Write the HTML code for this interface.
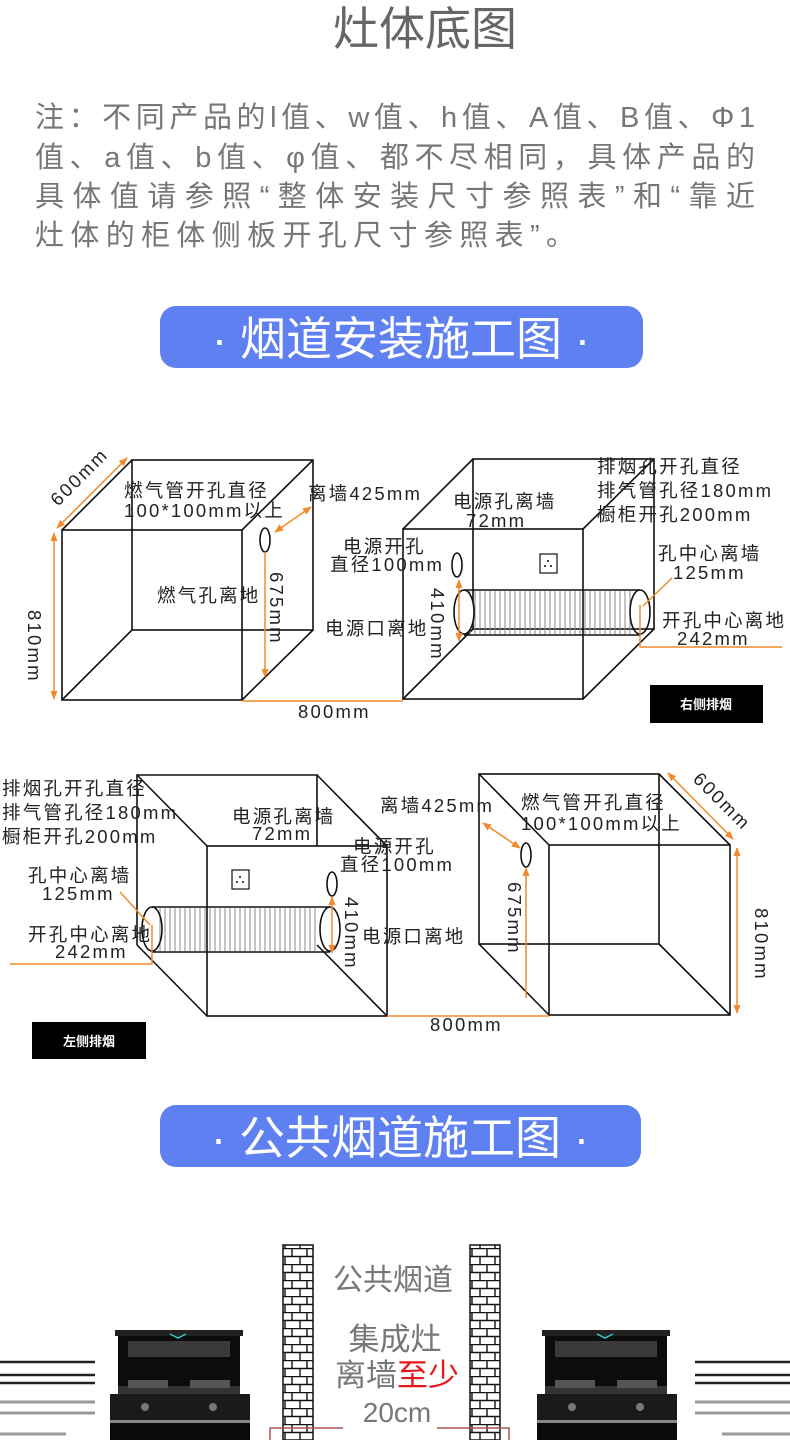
<!DOCTYPE html>
<html><head><meta charset="utf-8">
<style>
html,body{margin:0;padding:0;background:#fff;}
svg{display:block;}
text{font-family:"Liberation Sans","Noto Sans CJK SC",sans-serif;}
.t{font-size:18.5px;fill:#222;letter-spacing:2.2px;}
.n{font-size:29px;fill:#777;}
.o{stroke:#f08a2c;stroke-width:1.5;fill:none;}
.b{stroke:#111;stroke-width:1.6;fill:none;}
</style></head><body>
<svg width="790" height="1440" viewBox="0 0 790 1440" xmlns="http://www.w3.org/2000/svg">
<defs>
<marker id="a" viewBox="0 0 10 10" refX="9" refY="5" markerWidth="6" markerHeight="6" orient="auto-start-reverse"><path d="M0,1 L10,5 L0,9 z" fill="#f08a2c"/></marker>
<pattern id="brick" width="30" height="16" patternUnits="userSpaceOnUse">
<rect width="30" height="16" fill="#fff"/>
<path d="M0,0.5 H30 M0,8.5 H30 M7,0 V8 M22,0 V8 M0,8 V16 M15,8 V16 M30,8 V16" stroke="#111" stroke-width="1.4" fill="none"/>
</pattern>
</defs>

<text x="425" y="45" font-size="46" fill="#666" text-anchor="middle">灶体底图</text>
<text class="n" x="35" y="127" textLength="720">注：不同产品的l值、w值、h值、A值、B值、Φ1</text>
<text class="n" x="35" y="167" textLength="720">值、a值、b值、φ值、都不尽相同，具体产品的</text>
<text class="n" x="35" y="206" textLength="720">具体值请参照“整体安装尺寸参照表”和“靠近</text>
<text class="n" x="35" y="245" textLength="540">灶体的柜体侧板开孔尺寸参照表”。</text>

<rect x="160" y="306" width="483" height="62" rx="16" fill="#5f80f0"/>
<text x="401" y="355" font-size="46" fill="#fff" text-anchor="middle">· 烟道安装施工图 ·</text>

<!-- Diagram A -->
<g class="b">
<rect x="62" y="530" width="180" height="170"/>
<rect x="132" y="460" width="181" height="170"/>
<path d="M62,530 L132,460 M242,530 L313,460 M62,700 L132,630 M242,700 L313,630"/>
<ellipse cx="265" cy="540" rx="5" ry="12"/>
</g>
<g class="o">
<line x1="57" y1="528" x2="127" y2="458" marker-start="url(#a)" marker-end="url(#a)"/>
<line x1="54" y1="533" x2="54" y2="699" marker-start="url(#a)" marker-end="url(#a)"/>
<line x1="265" y1="552" x2="265" y2="677" marker-end="url(#a)"/>
<line x1="275" y1="532" x2="311" y2="507" marker-start="url(#a)" marker-end="url(#a)"/>
<line x1="242" y1="701" x2="403" y2="701"/>
</g>
<text class="t" x="124" y="497">燃气管开孔直径</text>
<text class="t" x="124" y="517">100*100mm以上</text>
<text class="t" x="308" y="500">离墙425mm</text>
<text class="t" x="157" y="602">燃气孔离地</text>
<text class="t" transform="translate(270,572) rotate(90)">675mm</text>
<text class="t" transform="translate(28,610) rotate(90)">810mm</text>
<text class="t" transform="translate(58,507) rotate(-45)">600mm</text>
<text class="t" x="298" y="718">800mm</text>

<!-- Diagram B -->
<g class="b">
<rect x="403" y="529" width="180" height="170"/>
<rect x="473" y="459" width="181" height="170"/>
<path d="M403,529 L473,459 M583,529 L654,459 M403,699 L473,629 M583,699 L654,629"/>
<ellipse cx="457" cy="565" rx="5" ry="12"/>
<rect x="540" y="554" width="17" height="19" stroke-width="1.2"/>
</g>
<circle cx="548" cy="561" r="1" fill="#111"/><circle cx="545" cy="566" r="1" fill="#111"/><circle cx="551" cy="566" r="1" fill="#111"/>
<g stroke="#888" stroke-width="1">
<path d="M470,591 V634 M475,591 V634 M480,591 V634 M485,591 V634 M490,591 V634 M495,591 V634 M500,591 V634 M505,591 V634 M510,591 V634 M515,591 V634 M520,591 V634 M525,591 V634 M530,591 V634 M535,591 V634 M540,591 V634 M545,591 V634 M550,591 V634 M555,591 V634 M560,591 V634 M565,591 V634 M570,591 V634 M575,591 V634 M580,591 V634 M585,591 V634 M590,591 V634 M595,591 V634 M600,591 V634 M605,591 V634 M610,591 V634 M615,591 V634 M620,591 V634 M625,591 V634 M630,591 V634"/>
</g>
<g class="b">
<path d="M464,590 H640 M464,635 H640"/>
<ellipse cx="464" cy="612" rx="10" ry="22" fill="#fff"/>
<ellipse cx="640" cy="612" rx="10" ry="22"/>
</g>
<g class="o">
<line x1="459" y1="580" x2="459" y2="641" marker-start="url(#a)" marker-end="url(#a)"/>
<line x1="643" y1="606" x2="672" y2="578"/>
<path d="M640,605 V647 H782"/>
</g>
<text class="t" x="453" y="508">电源孔离墙</text>
<text class="t" x="466" y="527">72mm</text>
<text class="t" x="343" y="553">电源开孔</text>
<text class="t" x="330" y="571">直径100mm</text>
<text class="t" transform="translate(431,588) rotate(90)">410mm</text>
<text class="t" x="325" y="635">电源口离地</text>
<text class="t" x="597" y="473">排烟孔开孔直径</text>
<text class="t" x="597" y="497">排气管孔径180mm</text>
<text class="t" x="597" y="521">橱柜开孔200mm</text>
<text class="t" x="658" y="560">孔中心离墙</text>
<text class="t" x="673" y="579">125mm</text>
<text class="t" x="662" y="627">开孔中心离地</text>
<text class="t" x="677" y="645">242mm</text>
<rect x="650" y="685" width="113" height="38" fill="#000"/>
<text x="706" y="709" font-size="13" font-weight="bold" fill="#fff" text-anchor="middle">右侧排烟</text>

<!-- Diagram C -->
<g class="b">
<rect x="207" y="846" width="180" height="170"/>
<path d="M137,945 V775 H317 V846"/>
<path d="M137,775 L207,846 M317,775 L387,846 M137,945 L207,1016 M317,945 L387,1016"/>
<ellipse cx="332" cy="884" rx="5" ry="12"/>
<rect x="232" y="870" width="17" height="19" stroke-width="1.2"/>
</g>
<circle cx="240" cy="877" r="1" fill="#111"/><circle cx="237" cy="882" r="1" fill="#111"/><circle cx="243" cy="882" r="1" fill="#111"/>
<g stroke="#888" stroke-width="1">
<path d="M160,908 V951 M165,908 V951 M170,908 V951 M175,908 V951 M180,908 V951 M185,908 V951 M190,908 V951 M195,908 V951 M200,908 V951 M205,908 V951 M210,908 V951 M215,908 V951 M220,908 V951 M225,908 V951 M230,908 V951 M235,908 V951 M240,908 V951 M245,908 V951 M250,908 V951 M255,908 V951 M260,908 V951 M265,908 V951 M270,908 V951 M275,908 V951 M280,908 V951 M285,908 V951 M290,908 V951 M295,908 V951 M300,908 V951 M305,908 V951 M310,908 V951 M315,908 V951"/>
</g>
<g class="b">
<path d="M152,907 H330 M152,952 H330"/>
<ellipse cx="152" cy="929" rx="10" ry="22"/>
<ellipse cx="330" cy="929" rx="10" ry="22" fill="#fff"/>
</g>
<g class="o">
<line x1="332" y1="897" x2="332" y2="953" marker-start="url(#a)" marker-end="url(#a)"/>
<line x1="120" y1="892" x2="150" y2="925"/>
<path d="M152,925 V964 H10"/>
</g>
<text class="t" x="2" y="795">排烟孔开孔直径</text>
<text class="t" x="2" y="819">排气管孔径180mm</text>
<text class="t" x="2" y="843">橱柜开孔200mm</text>
<text class="t" x="232" y="823">电源孔离墙</text>
<text class="t" x="252" y="840">72mm</text>
<text class="t" x="353" y="853">电源开孔</text>
<text class="t" x="340" y="871">直径100mm</text>
<text class="t" x="28" y="882">孔中心离墙</text>
<text class="t" x="42" y="900">125mm</text>
<text class="t" x="28" y="941">开孔中心离地</text>
<text class="t" x="55" y="958">242mm</text>
<text class="t" transform="translate(345,897) rotate(90)">410mm</text>
<text class="t" x="362" y="943">电源口离地</text>
<rect x="32" y="1022" width="114" height="37" fill="#000"/>
<text x="89" y="1046" font-size="13" font-weight="bold" fill="#fff" text-anchor="middle">左侧排烟</text>

<!-- Diagram D -->
<g class="b">
<rect x="479" y="774" width="180" height="170"/>
<rect x="549" y="845" width="181" height="170"/>
<path d="M479,774 L549,845 M659,774 L730,845 M479,944 L549,1015 M659,944 L730,1015"/>
<ellipse cx="526" cy="855" rx="5" ry="12"/>
</g>
<g class="o">
<line x1="483" y1="823" x2="520" y2="848" marker-start="url(#a)" marker-end="url(#a)"/>
<line x1="526" y1="868" x2="526" y2="998" marker-start="url(#a)"/>
<line x1="668" y1="773" x2="733" y2="839" marker-start="url(#a)" marker-end="url(#a)"/>
<line x1="737" y1="848" x2="737" y2="1013" marker-start="url(#a)" marker-end="url(#a)"/>
<line x1="387" y1="1016" x2="549" y2="1016"/>
</g>
<text class="t" x="380" y="812">离墙425mm</text>
<text class="t" x="521" y="809">燃气管开孔直径</text>
<text class="t" x="521" y="830">100*100mm以上</text>
<text class="t" transform="translate(508,882) rotate(90)">675mm</text>
<text class="t" transform="translate(755,908) rotate(90)">810mm</text>
<text class="t" transform="translate(692,780) rotate(45)">600mm</text>
<text class="t" x="430" y="1031">800mm</text>

<rect x="160" y="1105" width="481" height="62" rx="16" fill="#5f80f0"/>
<text x="400" y="1154" font-size="46" fill="#fff" text-anchor="middle">· 公共烟道施工图 ·</text>

<!-- bottom -->
<rect x="283" y="1245" width="30" height="195" fill="url(#brick)" stroke="#111" stroke-width="1.5"/>
<rect x="470" y="1245" width="30" height="195" fill="url(#brick)" stroke="#111" stroke-width="1.5"/>
<text x="393" y="1290" font-size="30" fill="#777" text-anchor="middle">公共烟道</text>
<text x="395" y="1350" font-size="31" fill="#777" text-anchor="middle">集成灶</text>
<text x="397" y="1386" font-size="31" fill="#777" text-anchor="middle">离墙<tspan fill="#e8161c">至少</tspan></text>
<text x="397" y="1422" font-size="28" fill="#777" text-anchor="middle">20cm</text>
<path d="M270,1440 V1428 H343 M437,1428 H509 V1440" stroke="#a55" stroke-width="1.5" fill="none"/>

<g id="stove">
<rect x="115" y="1330" width="128" height="6" fill="#222"/>
<rect x="118" y="1336" width="122" height="50" fill="#0c0c0c"/>
<rect x="128" y="1341" width="102" height="16" fill="#3a3a3a"/>
<path d="M170,1334 L178,1338 L186,1334" stroke="#3cc" stroke-width="1.5" fill="none"/>
<rect x="118" y="1386" width="122" height="8" fill="#333"/>
<rect x="128" y="1380" width="40" height="8" fill="#555"/>
<rect x="190" y="1380" width="40" height="8" fill="#555"/>
<rect x="110" y="1394" width="140" height="26" fill="#1a1a1a"/>
<circle cx="145" cy="1407" r="4" fill="#777"/><circle cx="213" cy="1407" r="4" fill="#777"/>
<rect x="110" y="1420" width="140" height="3" fill="#888"/>
<rect x="110" y="1423" width="140" height="17" fill="#0a0a0a"/>
</g>
<use href="#stove" transform="translate(427,0)"/>
<g stroke="#222" stroke-width="2.5">
<path d="M0,1362 H95 M0,1375 H95 M0,1383 H95 M695,1362 H790 M695,1375 H790 M695,1383 H790"/>
</g>
<g stroke="#999" stroke-width="3">
<path d="M0,1402 H95 M0,1413 H95 M0,1434 H66 M695,1402 H790 M695,1413 H790 M722,1434 H790"/>
</g>
</svg>
</body></html>
